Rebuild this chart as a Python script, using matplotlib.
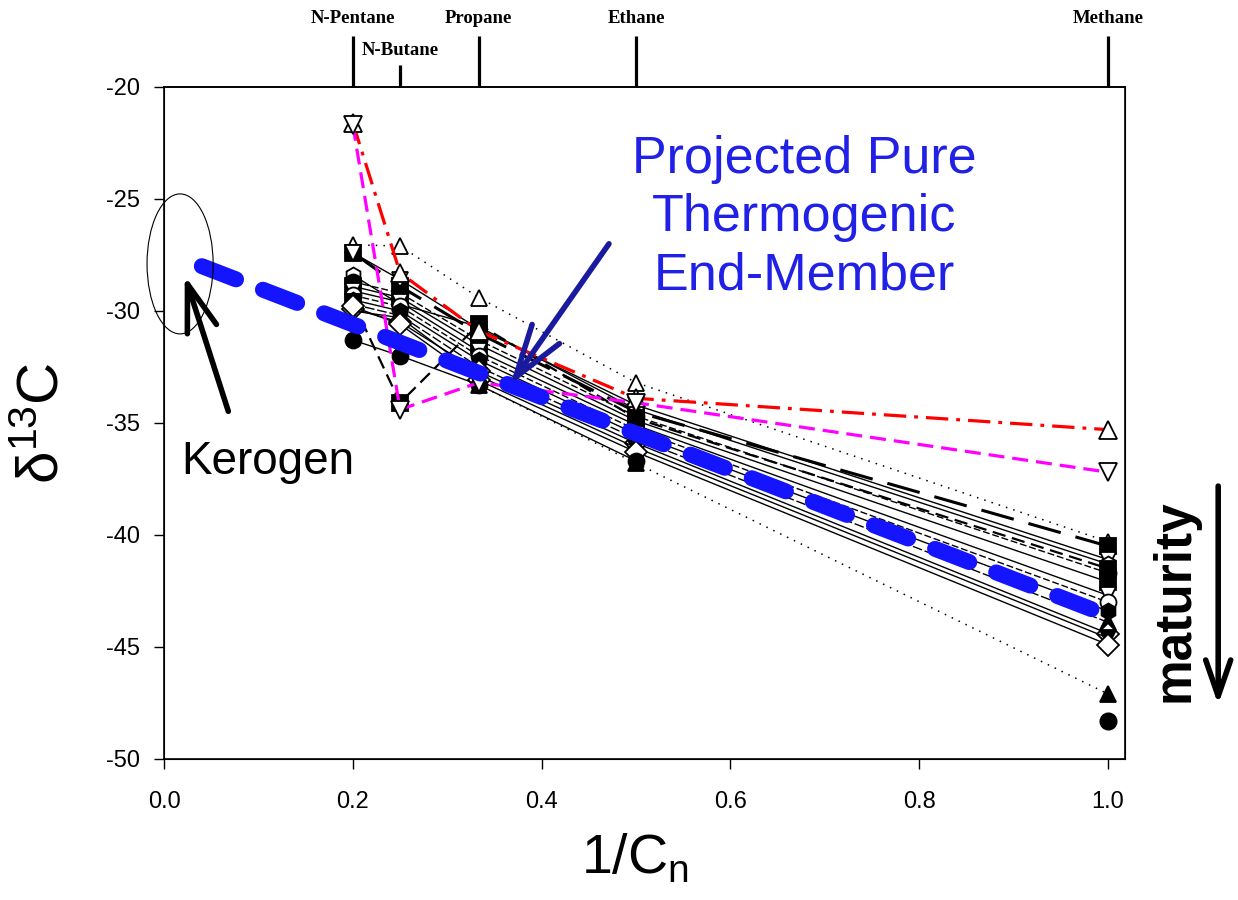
import numpy as np
import matplotlib
matplotlib.use("Agg")
import matplotlib.pyplot as plt
from matplotlib.patches import Ellipse
from matplotlib import font_manager

names = {f.name for f in font_manager.fontManager.ttflist}
sans = "Liberation Sans" if "Liberation Sans" in names else "DejaVu Sans"
narrow = "Liberation Sans Narrow" if "Liberation Sans Narrow" in names else sans
plt.rcParams["font.family"] = [sans, "DejaVu Sans"]
plt.rcParams["mathtext.fontset"] = "custom"
plt.rcParams["mathtext.rm"] = sans
plt.rcParams["axes.unicode_minus"] = False

nan = np.nan

# 1/Cn for pentane, butane, propane, ethane, methane
inv_cn = [0.2, 0.25, 1 / 3, 0.5, 1.0]
top_labels = ["N-Pentane", "N-Butane", "Propane", "Ethane", "Methane"]

red_vals = [-21.6, -28.3, -30.9, -33.9, -35.3]
magenta_vals = [-21.7, -34.4, -33.2, -34.1, -37.2]

black_vals = [
    [-27.05, -27.1, -29.4, -33.2, -40.3],
    [-27.4, -28.9, -31.0, -34.5, -40.5],
    [-27.4, -28.6, -30.8, -34.2, -41.1],
    [-28.4, -29.7, -30.7, -34.4, -41.3],
    [-28.7, -29.2, -31.3, -34.7, -41.7],
    [-28.9, -29.4, -31.5, -34.9, -42.1],
    [-29.1, -29.6, -31.8, -35.1, -42.7],
    [-29.3, -29.8, -32.0, -35.3, -43.0],
    [-29.6, -34.1, -30.6, -34.8, -41.5],
    [-29.5, -30.0, -32.2, -35.5, -43.4],
    [-29.7, -30.2, -32.5, -35.7, -43.9],
    [-29.9, -30.5, -32.7, -35.9, -44.4],
    [-30.0, -30.3, -32.9, -36.1, -44.6],
    [-29.8, -30.6, -33.1, -36.3, -44.9],
    [-31.3, -32.0, -33.3, -36.7, nan],
    [nan, nan, -33.3, -36.8, -47.1],
]
lone_x = [1.0]
lone_y = [-48.3]

# projected thermogenic end-member trend
proj_x = [0.04, 1.0]
proj_y = [-28.0, -43.6]

# styles for black series: marker, filled, linestyle, linewidth
black_styles = [
    ("^", False, (0, (1, 4)), 1.1),
    ("s", True, (0, (11, 5)), 2.2),
    ("v", False, "-", 1.0),
    ("h", False, "-", 1.0),
    ("o", True, (0, (5, 2)), 1.0),
    ("s", True, "-", 1.0),
    ("v", False, "-", 1.0),
    ("o", False, (0, (5, 2)), 1.0),
    ("s", True, (0, (6, 3)), 1.6),
    ("h", True, "-", 1.0),
    ("^", True, (0, (7, 2)), 1.0),
    ("D", False, "-", 1.0),
    ("v", True, "-", 1.0),
    ("D", False, "-", 1.0),
    ("o", True, "-", 1.0),
    ("^", True, (0, (1, 4)), 1.1),
]

fig = plt.figure(figsize=(12.38, 9), dpi=100)
ax = fig.add_axes([0.1325, 0.1567, 0.7763, 0.7467])

for vals, (mk, filled, ls, lw) in zip(black_vals, black_styles):
    ax.plot(inv_cn, vals, color="black", ls=ls, lw=lw, marker=mk, ms=11.5,
            mfc="black" if filled else "white", mec="black", mew=1.3, zorder=2)
ax.plot(lone_x, lone_y, ls="none", marker="o", ms=12, color="black", zorder=2)

ax.plot(inv_cn, red_vals, color="red", ls=(0, (7, 2.5, 1.2, 2.5)), lw=2.3,
        marker="^", ms=12.5, mfc="white", mec="black", mew=1.3, zorder=3)
ax.plot(inv_cn, magenta_vals, color="magenta", ls=(0, (5, 2.5)), lw=2.3,
        marker="v", ms=12.5, mfc="white", mec="black", mew=1.3, zorder=3)

ax.plot(proj_x, proj_y, color="#1414ff", lw=11.5, dashes=(2.3, 1.8),
        dash_capstyle="round", solid_capstyle="round", zorder=4)

ax.set_xlim(0, 1.018)
ax.set_ylim(-50, -20)
ax.set_xticks([0.0, 0.2, 0.4, 0.6, 0.8, 1.0])
ax.set_yticks([-50, -45, -40, -35, -30, -25, -20])
ax.xaxis.set_major_formatter(matplotlib.ticker.FormatStrFormatter("%.1f"))
ax.tick_params(axis="both", direction="out", length=7, width=1, labelsize=17)
ax.tick_params(axis="x", pad=16)
ax.tick_params(axis="y", pad=10)
for s in ax.spines.values():
    s.set_linewidth(1.2)

ax.set_xlabel("1/C$_\\mathregular{n}$", fontsize=40, family=narrow)
ax.xaxis.set_label_coords(0.49, -0.108)
ax.set_ylabel("$\\mathregular{\\delta^{13}C}$", fontsize=42)
ax.yaxis.set_label_coords(-0.097, 0.5)

# top axis with compound names
ax2 = ax.twiny()
ax2.set_xlim(ax.get_xlim())
major_idx = [0, 2, 3, 4]
ax2.set_xticks([inv_cn[i] for i in major_idx], [top_labels[i] for i in major_idx])
ax2.set_xticks([inv_cn[1]], [top_labels[1]], minor=True)
ax2.tick_params(which="major", length=37, width=2.3, direction="out", pad=6)
ax2.tick_params(which="minor", length=16, width=2.3, direction="out", pad=4)
for lab in ax2.get_xticklabels(which="both"):
    lab.set_family(["Liberation Serif", "DejaVu Serif"])
    lab.set_fontweight("bold")
    lab.set_fontsize(13.5)
ax2.spines["top"].set_linewidth(1.2)

# annotations
ax.add_patch(Ellipse((0.017, -27.9), 0.07, 6.25, fill=False, lw=0.8,
                     color="black", clip_on=False, zorder=5))
ax.annotate("", xy=(0.021, -28.3), xytext=(0.069, -34.6),
            arrowprops=dict(arrowstyle="->,head_length=1.7,head_width=0.55",
                            mutation_scale=20, lw=4, color="black"), zorder=6)
ax.text(0.018, -37.3, "Kerogen", fontsize=33, va="baseline", ha="left")

ax.annotate("", xy=(0.365, -33.4), xytext=(0.473, -26.9),
            arrowprops=dict(arrowstyle="->,head_length=1.9,head_width=0.6",
                            mutation_scale=20, lw=4, color="#1a1a9e"), zorder=6)
ax.text(0.678, -25.85, "Projected Pure\nThermogenic\nEnd-Member", fontsize=37.5,
        color="#2020e6", ha="center", va="center", linespacing=1.25)

fig.text(0.949, 0.333, "maturity", rotation=90, fontsize=37, fontweight="bold",
         ha="center", va="center")
ax.annotate("", xy=(0.984, 0.214), xycoords="figure fraction",
            xytext=(0.984, 0.463), textcoords="figure fraction",
            arrowprops=dict(arrowstyle="->,head_length=1.3,head_width=0.45",
                            mutation_scale=20, lw=4, color="black"),
            annotation_clip=False)

fig.savefig("out.png", dpi=100)
